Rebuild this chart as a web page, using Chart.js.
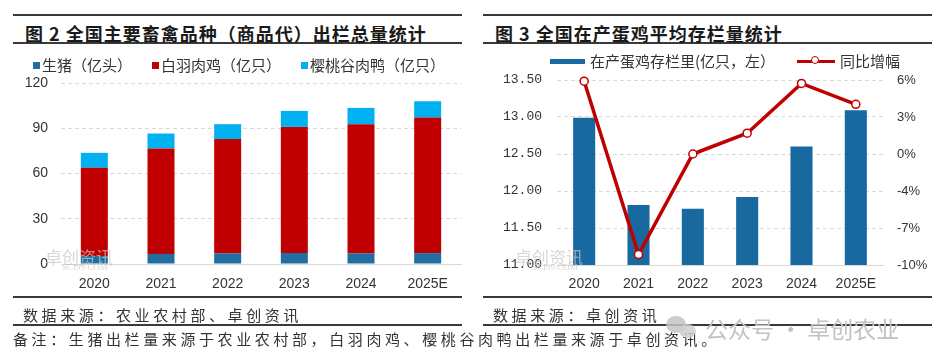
<!DOCTYPE html>
<html><head><meta charset="utf-8">
<script src="https://cdn.jsdelivr.net/npm/chart.js@4/dist/chart.umd.min.js"></script>
<style>
body{margin:0;width:945px;height:358px;background:#fff;position:relative;overflow:hidden;font-family:"Noto Sans CJK SC",sans-serif;color:#222}
.rule{position:absolute;height:2px;background:#3a3a3a}
.title{position:absolute;font-weight:bold;font-size:18px;line-height:20px;white-space:nowrap;letter-spacing:1px;color:#1a1a1a}
.src{position:absolute;font-size:15px;line-height:16px;letter-spacing:3.6px;white-space:nowrap;color:#333}
.leg{position:absolute;font-size:15px;line-height:16px;white-space:nowrap;color:#333;display:flex;align-items:center}
.sq{display:inline-block;width:7px;height:7px;margin-right:2px}
canvas{position:absolute}
.wm{position:absolute;color:#c8c8c8;white-space:nowrap}
</style></head><body>
<canvas id="c1" width="470" height="230" style="left:0;top:70px;width:470px;height:230px"></canvas>
<canvas id="c2" width="475" height="230" style="left:470px;top:70px;width:475px;height:230px"></canvas>

<div class="rule" style="left:13px;top:14px;width:449px"></div>
<div class="rule" style="left:13px;top:42px;width:449px"></div>
<div class="title" style="left:25px;top:23px">图 2 全国主要畜禽品种（商品代）出栏总量统计</div>
<div class="rule" style="left:483px;top:14px;width:449px"></div>
<div class="rule" style="left:483px;top:42px;width:449px"></div>
<div class="title" style="left:495px;top:23px">图 3 全国在产蛋鸡平均存栏量统计</div>

<div class="leg" style="left:33px;top:57px">
  <span class="sq" style="background:#1F6FA0"></span><span style="margin-right:20px">生猪（亿头）</span>
  <span class="sq" style="background:#C00000"></span><span style="margin-right:20px">白羽肉鸡（亿只）</span>
  <span class="sq" style="background:#00B0F0"></span><span>樱桃谷肉鸭（亿只）</span>
</div>
<div class="leg" style="left:550px;top:53px">
  <span style="display:inline-block;width:35px;height:5px;background:#17699F;margin-right:5px"></span><span style="margin-right:22px">在产蛋鸡存栏里(亿只，左）</span>
  <span style="display:inline-block;position:relative;width:38px;height:3px;background:#C00000;margin-right:5px"><span style="position:absolute;left:14px;top:-3.5px;width:6px;height:6px;border:1.5px solid #C00000;border-radius:50%;background:#fff"></span></span><span>同比增幅</span>
</div>

<div class="wm" style="left:45px;top:244px;font-size:17px;opacity:0.7">卓创资讯</div>
<div class="wm" style="left:62px;top:262px;font-size:9px;font-family:'Liberation Serif';opacity:0.7">SCI99.COM</div>
<div class="wm" style="left:515px;top:244px;font-size:17px;opacity:0.7">卓创资讯</div>
<div class="wm" style="left:532px;top:262px;font-size:9px;font-family:'Liberation Serif';opacity:0.7">SCI99.COM</div>

<div class="rule" style="left:13px;top:296px;width:449px"></div>
<div class="rule" style="left:13px;top:324px;width:449px"></div>
<div class="src" style="left:23px;top:307px">数据来源：农业农村部、卓创资讯</div>
<div class="rule" style="left:483px;top:296px;width:449px"></div>
<div class="rule" style="left:483px;top:324px;width:449px"></div>
<div class="src" style="left:493px;top:307px">数据来源：卓创资讯</div>
<div class="src" style="left:13px;top:331px">备注：生猪出栏量来源于农业农村部，白羽肉鸡、樱桃谷肉鸭出栏量来源于卓创资讯。</div>

<div style="position:absolute;left:666px;top:316px;width:20px;height:17px;border-radius:50%;background:#c4c4c4;opacity:0.85"></div>
<div style="position:absolute;left:679px;top:324px;width:17px;height:14px;border-radius:50%;background:#cfcfcf;opacity:0.85"></div>
<div class="wm" style="left:705px;top:314px;font-size:23px;line-height:28px;color:#c2c2c2">公众号 · 卓创农业</div>

<script>
const years = ['2020','2021','2022','2023','2024','2025E'];
const pig = [5.3, 6.7, 7.0, 7.3, 7.0, 7.2];
const broiler = [58.5, 69.9, 75.8, 83.6, 85.7, 89.9];
const duck = [9.9, 9.9, 9.9, 10.6, 10.8, 10.8];
const leftTicks = [0, 30, 60, 90, 120];

const layerStock = [12.99, 11.81, 11.76, 11.92, 12.60, 13.09];
const layerYoY = [0.059, -0.091, -0.004, 0.014, 0.057, 0.039];
const stockTicks = [11.0, 11.5, 12.0, 12.5, 13.0, 13.5];
const yoyTicks = [-0.10, -0.068, -0.036, -0.004, 0.028, 0.06];

const grid = '#d9d9d9';
const xFont = {family:'Liberation Sans', size:14};

new Chart(document.getElementById('c1'), {
  type:'bar',
  data:{labels:years, datasets:[
    {label:'生猪（亿头）', data:pig, backgroundColor:'#1F6FA0'},
    {label:'白羽肉鸡（亿只）', data:broiler, backgroundColor:'#C00000'},
    {label:'樱桃谷肉鸭（亿只）', data:duck, backgroundColor:'#00B0F0'}
  ]},
  options:{
    responsive:false, animation:false, devicePixelRatio:1,
    layout:{padding:{left:0,right:9,top:13,bottom:0}},
    plugins:{legend:{display:false}, tooltip:{enabled:false}},
    datasets:{bar:{barPercentage:0.405, categoryPercentage:1}},
    scales:{
      x:{stacked:true, grid:{display:false, drawTicks:false},
         border:{display:true, color:grid, width:1},
         ticks:{font:xFont, color:'#333', padding:12, maxRotation:0, autoSkip:false},
         afterFit(s){s.height=36; s.paddingLeft=0; s.paddingRight=0;}},
      y:{stacked:true, min:0, max:120,
         afterBuildTicks(s){s.ticks = leftTicks.map(v=>({value:v}));},
         grid:{color:grid, drawTicks:false, lineWidth:1},
         border:{display:false, dash:[4,3]},
         ticks:{font:{family:'Liberation Sans', size:14}, color:'#333', padding:13},
         afterFit(s){s.width=61; s.paddingTop=0; s.paddingBottom=0;}}
    }
  }
});

new Chart(document.getElementById('c2'), {
  data:{labels:years, datasets:[
    {type:'line', label:'同比增幅', data:layerYoY, yAxisID:'y1', borderColor:'#C00000', borderWidth:3.5,
     pointRadius:4, pointBackgroundColor:'#fff', pointBorderColor:'#C00000', pointBorderWidth:1.5,
     tension:0, order:0, clip:false},
    {type:'bar', label:'在产蛋鸡存栏里(亿只，左）', data:layerStock, yAxisID:'y', backgroundColor:'#17699F',
     barPercentage:0.406, categoryPercentage:1, order:1}
  ]},
  options:{
    responsive:false, animation:false, devicePixelRatio:1,
    layout:{padding:{left:0,right:2,top:10,bottom:0}},
    plugins:{legend:{display:false}, tooltip:{enabled:false}},
    scales:{
      x:{grid:{display:false, drawTicks:false}, offset:true,
         border:{display:true, color:grid, width:1},
         ticks:{font:xFont, color:'#333', padding:11, maxRotation:0, autoSkip:false},
         afterFit(s){s.height=35; s.paddingLeft=0; s.paddingRight=0;}},
      y:{position:'left', min:11, max:13.5,
         afterBuildTicks(s){s.ticks = stockTicks.map(v=>({value:v}));},
         grid:{color:grid, drawTicks:false},
         border:{display:false, dash:[4,3]},
         ticks:{font:{family:'Liberation Mono', size:13}, color:'#333', padding:15, callback:v=>Number(v).toFixed(2)},
         afterFit(s){s.width=87; s.paddingTop=0; s.paddingBottom=0;}},
      y1:{position:'right', min:-0.1, max:0.06,
         afterBuildTicks(s){s.ticks = yoyTicks.map(v=>({value:v}));},
         grid:{display:false, drawTicks:false},
         border:{display:false},
         ticks:{font:{family:'Liberation Sans', size:13}, color:'#333', padding:14,
                callback:v=>{const r=Math.round(v*100); return (r===0?0:r)+'%';}},
         afterFit(s){s.width=60; s.paddingTop=0; s.paddingBottom=0;}}
    }
  }
});
</script>
</body></html>
